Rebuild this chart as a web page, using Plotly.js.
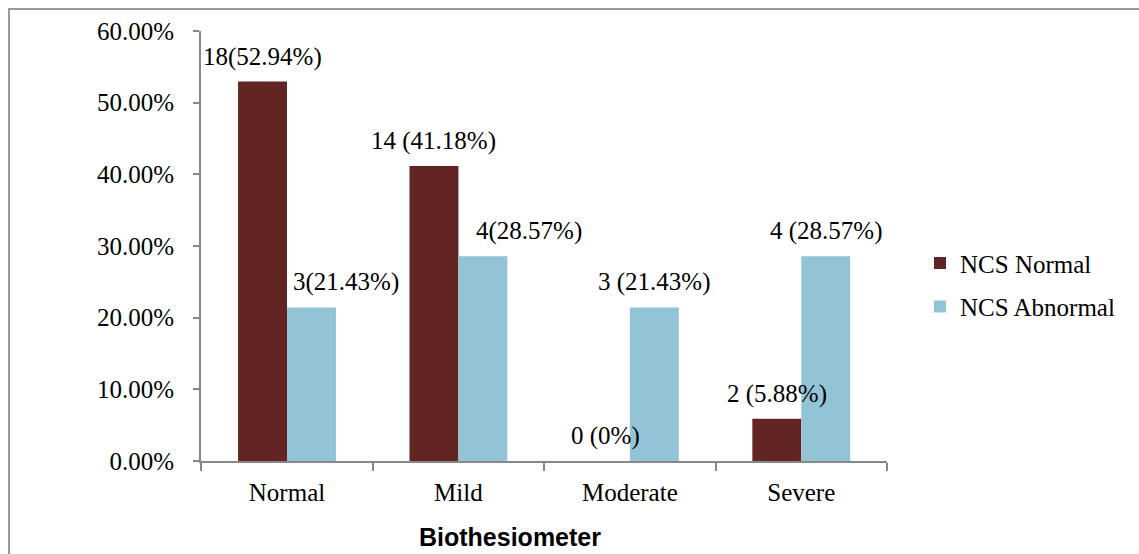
<!DOCTYPE html>
<html>
<head>
<meta charset="utf-8">
<script src="https://cdn.plot.ly/plotly-3.0.1.min.js"></script>
<style>
html,body{margin:0;padding:0;background:#fff;}
#wrap{position:relative;width:1139px;height:554px;overflow:hidden;}
#chart{position:absolute;left:0;top:0;width:1139px;height:554px;}
#frame{position:absolute;left:8px;top:8px;width:1200px;height:600px;border-left:2px solid #9a9a9a;border-top:2px solid #9a9a9a;pointer-events:none;}
</style>
</head>
<body>
<div id="wrap"><div id="chart"></div><div id="frame"></div></div>
<script>
const categories = ["Normal", "Mild", "Moderate", "Severe"];
const ncsNormal = [0.5294, 0.4118, 0, 0.0588];
const ncsAbnormal = [0.2143, 0.2857, 0.2143, 0.2857];
const ncsNormalLabels = ["18(52.94%)", "14 (41.18%)", "0 (0%)", "2 (5.88%)"];
const ncsAbnormalLabels = ["3(21.43%)", "4(28.57%)", "3 (21.43%)", "4 (28.57%)"];
const seriesNames = ["NCS Normal", "NCS Abnormal"];
const yTicks = [0, 0.1, 0.2, 0.3, 0.4, 0.5, 0.6];

const serif = "'Liberation Serif', 'Times New Roman', serif";
const colors = ["#632523", "#93C4D6"];
const fs = 25;

const traces = [
  {type: "bar", name: seriesNames[0], x: categories, y: ncsNormal, marker: {color: colors[0]}, legendgroup: "a", hoverinfo: "none"},
  {type: "bar", name: seriesNames[1], x: categories, y: ncsAbnormal, marker: {color: colors[1]}, legendgroup: "b", hoverinfo: "none"}
];

const half = 24.5;
const extraShift = [[0,0,0,0],[34,46,0,0]];
const annotations = [];
[ [ncsNormal, ncsNormalLabels, -half], [ncsAbnormal, ncsAbnormalLabels, half] ].forEach(([vals, labs, off], s) => {
  vals.forEach((v, i) => {
    annotations.push({x: categories[i], y: v, xref: "x", yref: "y", text: labs[i], showarrow: false,
      xshift: off + extraShift[s][i], yshift: 25, yanchor: "middle", xanchor: "center",
      font: {family: serif, size: fs, color: "#000"}});
  });
});
annotations.push({x: (510-201)/686, y: 0, xref: "paper", yref: "paper", yshift: -76, yanchor: "middle",
  text: "<b>Biothesiometer</b>", showarrow: false,
  font: {family: "'Liberation Sans', Arial, sans-serif", size: 25, color: "#000"}});

const layout = {
  width: 1139, height: 554,
  margin: {l: 201, r: 252, t: 31, b: 93},
  paper_bgcolor: "rgba(0,0,0,0)", plot_bgcolor: "#fff",
  barmode: "group", bargap: 0.429, bargroupgap: 0,
  showlegend: true,
  legend: {x: (920-201)/686, y: 0.41, xanchor: "left", yanchor: "middle", traceorder: "grouped", tracegroupgap: 8,
    font: {family: serif, size: fs, color: "#000"}, itemwidth: 30},
  xaxis: {type: "category", showline: true, linecolor: "#888", linewidth: 2, ticks: "outside", tickson: "boundaries",
    ticklen: 8, tickcolor: "#888", tickwidth: 2, showgrid: false, zeroline: false, ticklabelstandoff: 8,
    tickfont: {family: serif, size: fs, color: "#000"}},
  yaxis: {range: [0, 0.6], tickvals: yTicks, tickformat: ".2%", showline: true, linecolor: "#888", linewidth: 2,
    ticks: "outside", ticklen: 6, tickcolor: "#888", tickwidth: 2, showgrid: false, zeroline: false, ticklabelstandoff: 14,
    tickfont: {family: serif, size: fs, color: "#000"}},
  annotations: annotations
};

Plotly.newPlot("chart", traces, layout, {displayModeBar: false, staticPlot: true});
</script>
</body>
</html>
